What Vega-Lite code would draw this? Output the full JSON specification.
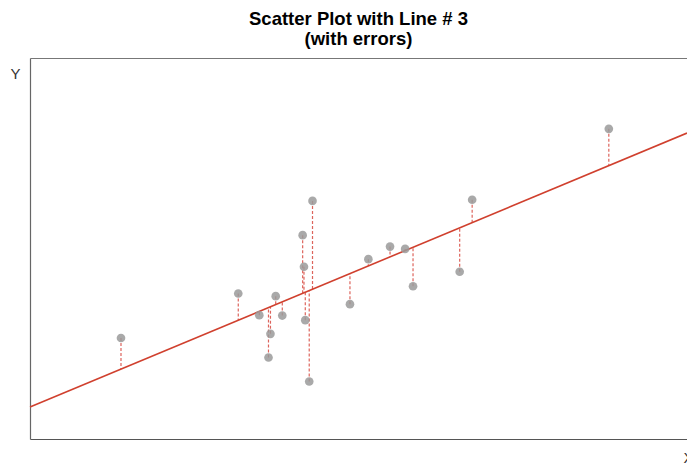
{
  "$schema": "https://vega.github.io/schema/vega-lite/v6.json",
  "width": 657,
  "height": 381,
  "autosize": {"type": "none"},
  "padding": {"left": 30, "top": 58, "right": 0, "bottom": 27},
  "background": "#ffffff",
  "config": {"view": {"stroke": null}, "font": "Liberation Sans"},
  "title": {
    "text": ["Scatter Plot with Line # 3", "(with errors)"],
    "font": "Liberation Sans",
    "fontSize": 18.5,
    "fontWeight": "bold",
    "lineHeight": 20,
    "color": "#000000",
    "anchor": "middle",
    "offset": 10
  },
  "datasets": {
    "pts": [
      {"x": 13.85, "y": 26.5, "fit": 18.36},
      {"x": 31.7, "y": 38.2, "fit": 31.19},
      {"x": 34.9, "y": 32.5, "fit": 33.49},
      {"x": 37.4, "y": 37.5, "fit": 35.29},
      {"x": 38.4, "y": 32.4, "fit": 36.01},
      {"x": 36.6, "y": 27.6, "fit": 34.72},
      {"x": 36.3, "y": 21.4, "fit": 34.5},
      {"x": 41.5, "y": 53.5, "fit": 38.24},
      {"x": 41.7, "y": 45.2, "fit": 38.38},
      {"x": 41.9, "y": 31.2, "fit": 38.53},
      {"x": 43.0, "y": 62.5, "fit": 39.32},
      {"x": 42.5, "y": 15.1, "fit": 38.96},
      {"x": 48.7, "y": 35.4, "fit": 43.42},
      {"x": 51.5, "y": 47.2, "fit": 45.43},
      {"x": 54.8, "y": 50.5, "fit": 47.8},
      {"x": 57.1, "y": 49.9, "fit": 49.45},
      {"x": 58.3, "y": 40.1, "fit": 50.32},
      {"x": 67.3, "y": 62.8, "fit": 56.79},
      {"x": 65.4, "y": 43.9, "fit": 55.42},
      {"x": 88.1, "y": 81.4, "fit": 71.74}
    ],
    "fitline": [
      {"x": 0, "y": 8.4},
      {"x": 100, "y": 80.3}
    ]
  },
  "layer": [
    {
      "data": {"name": "pts"},
      "mark": {"type": "rule", "color": "#d9534a", "strokeDash": [3, 2], "strokeWidth": 1.2, "opacity": 0.9},
      "encoding": {
        "x": {"field": "x", "type": "quantitative", "scale": {"domain": [0, 100], "nice": false, "zero": false},
          "axis": {"orient": "bottom", "domain": true, "domainColor": "#555555", "domainWidth": 1.2, "ticks": false, "labels": false, "grid": false,
            "title": "X", "titleFont": "Liberation Sans", "titleFontSize": 15, "titleFontWeight": "normal", "titleColor": "#333333",
            "titleX": 653, "titleY": 18, "titleAlign": "left", "titleBaseline": "middle"}},
        "y": {"field": "y", "type": "quantitative", "scale": {"domain": [0, 100], "nice": false, "zero": false},
          "axis": {"orient": "left", "domain": true, "domainColor": "#666666", "domainWidth": 1.2, "ticks": false, "labels": false, "grid": false,
            "title": "Y", "titleFont": "Liberation Sans", "titleFontSize": 15, "titleFontWeight": "normal", "titleColor": "#333333",
            "titleAngle": 0, "titleX": -15, "titleY": 15, "titleAlign": "center", "titleBaseline": "middle"}},
        "y2": {"field": "fit"}
      }
    },
    {
      "data": {"name": "fitline"},
      "mark": {"type": "line", "color": "#d0402e", "strokeWidth": 1.6},
      "encoding": {
        "x": {"field": "x", "type": "quantitative",
          "axis": {"orient": "top", "domain": true, "domainColor": "#777777", "domainWidth": 1.2, "ticks": false, "labels": false, "grid": false, "title": null}},
        "y": {"field": "y", "type": "quantitative", "axis": null}
      }
    },
    {
      "data": {"name": "pts"},
      "mark": {"type": "circle", "color": "#9a9a9a", "opacity": 0.85, "size": 75},
      "encoding": {
        "x": {"field": "x", "type": "quantitative", "axis": null},
        "y": {"field": "y", "type": "quantitative", "axis": null}
      }
    }
  ],
  "resolve": {"axis": {"x": "independent", "y": "independent"}}
}
